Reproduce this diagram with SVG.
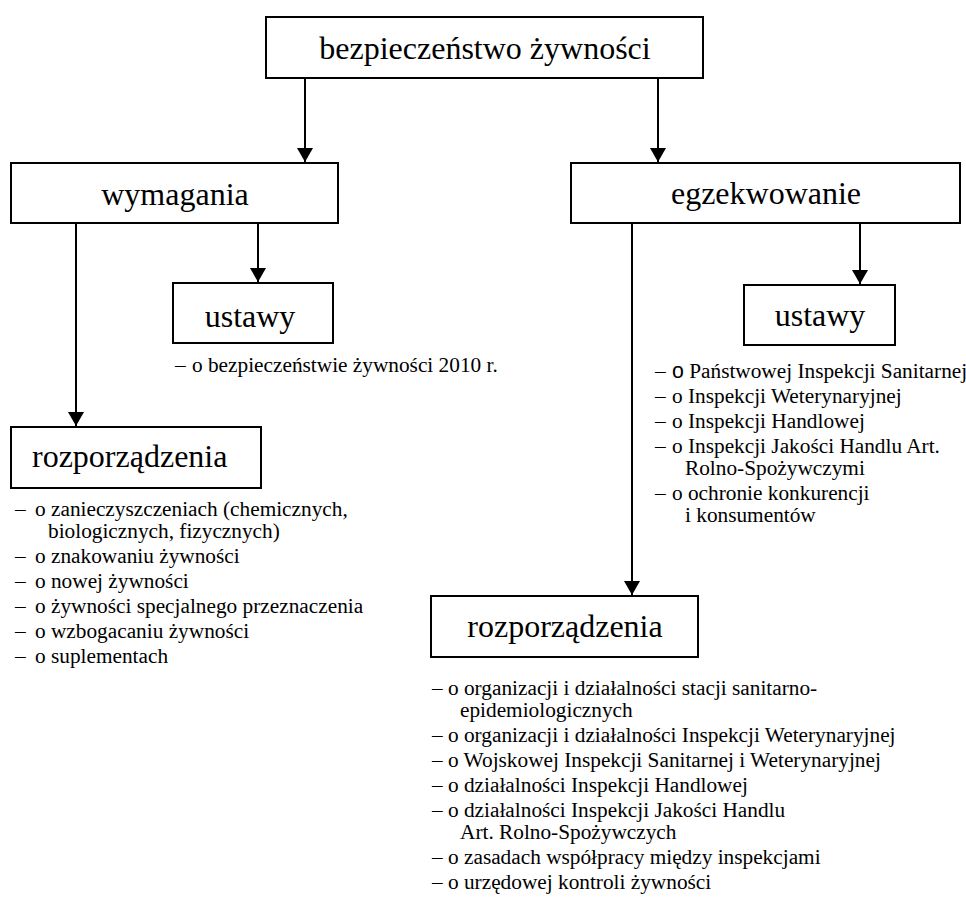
<svg xmlns="http://www.w3.org/2000/svg" width="966" height="898" viewBox="0 0 966 898">
<defs>
<style>
.box{fill:#fff;stroke:#000;stroke-width:2}
.t{font-family:"Liberation Serif","Times New Roman",serif;font-size:32px;fill:#000}
.c{text-anchor:middle}
.l{font-family:"Liberation Serif","Times New Roman",serif;font-size:21.3px;fill:#000}
.s{font-family:"Liberation Sans",Arial,sans-serif}
.conn line{stroke:#000;stroke-width:2;marker-end:url(#ah)}
</style>
<marker id="ah" viewBox="0 0 14 16" refX="14" refY="8" markerWidth="14" markerHeight="16" markerUnits="userSpaceOnUse" orient="auto">
<path d="M0,0 L14,8 L0,16 z" fill="#000"/>
</marker>
</defs>
<rect width="966" height="898" fill="#fff"/>
<g id="connectors" class="conn">
<line x1="305" y1="78" x2="305" y2="162"/>
<line x1="658" y1="78" x2="658" y2="162"/>
<line x1="258" y1="223" x2="258" y2="282"/>
<line x1="76" y1="223" x2="76" y2="426"/>
<line x1="860" y1="223" x2="860" y2="284"/>
<line x1="632" y1="223" x2="632" y2="595"/>
</g>
<g id="bezpieczenstwo">
<rect class="box" x="266" y="17" width="437" height="61"/>
<text class="t c" x="485" y="59">bezpieczeństwo żywności</text>
</g>
<g id="wymagania">
<rect class="box" x="11" y="163" width="327" height="60"/>
<text class="t c" x="175" y="205">wymagania</text>
</g>
<g id="egzekwowanie">
<rect class="box" x="571" y="163" width="389" height="60"/>
<text class="t c" x="766" y="204">egzekwowanie</text>
</g>
<g id="ustawy-wymagania">
<rect class="box" x="173" y="283" width="160" height="60"/>
<text class="t c" x="250" y="327">ustawy</text>
<text class="l" x="175" y="372">–<tspan x="192">o bezpieczeństwie żywności 2010 r.</tspan></text>
</g>
<g id="rozporzadzenia-wymagania">
<rect class="box" x="11" y="427" width="250" height="61"/>
<text class="t" x="32" y="467">rozporządzenia</text>
<text class="l" x="15" y="516">–<tspan x="35">o zanieczyszczeniach (chemicznych,</tspan></text>
<text class="l" x="48" y="538">biologicznych, fizycznych)</text>
<text class="l" x="15" y="563">–<tspan x="35">o znakowaniu żywności</tspan></text>
<text class="l" x="15" y="588">–<tspan x="35">o nowej żywności</tspan></text>
<text class="l" x="15" y="613">–<tspan x="35">o żywności specjalnego przeznaczenia</tspan></text>
<text class="l" x="15" y="638">–<tspan x="35">o wzbogacaniu żywności</tspan></text>
<text class="l" x="15" y="663">–<tspan x="35">o suplementach</tspan></text>
</g>
<g id="ustawy-egzekwowanie">
<rect class="box" x="744" y="285" width="151" height="60"/>
<text class="t c" x="820" y="326">ustawy</text>
<text class="l" x="655" y="378">–<tspan x="672" class="s">o</tspan><tspan> Państwowej Inspekcji Sanitarnej</tspan></text>
<text class="l" x="655" y="403">–<tspan x="672">o Inspekcji Weterynaryjnej</tspan></text>
<text class="l" x="655" y="428">–<tspan x="672">o Inspekcji Handlowej</tspan></text>
<text class="l" x="655" y="453">–<tspan x="672">o Inspekcji Jakości Handlu Art.</tspan></text>
<text class="l" x="685" y="475">Rolno-Spożywczymi</text>
<text class="l" x="655" y="500">–<tspan x="672">o ochronie konkurencji</tspan></text>
<text class="l" x="685" y="522">i konsumentów</text>
</g>
<g id="rozporzadzenia-egzekwowanie">
<rect class="box" x="431" y="596" width="267" height="61"/>
<text class="t c" x="565" y="637">rozporządzenia</text>
<text class="l" x="432" y="695">–<tspan x="448">o organizacji i działalności stacji sanitarno-</tspan></text>
<text class="l" x="460" y="717">epidemiologicznych</text>
<text class="l" x="432" y="742">–<tspan x="448">o organizacji i działalności Inspekcji Weterynaryjnej</tspan></text>
<text class="l" x="432" y="767">–<tspan x="448">o Wojskowej Inspekcji Sanitarnej i Weterynaryjnej</tspan></text>
<text class="l" x="432" y="792">–<tspan x="448">o działalności Inspekcji Handlowej</tspan></text>
<text class="l" x="432" y="817">–<tspan x="448">o działalności Inspekcji Jakości Handlu</tspan></text>
<text class="l" x="460" y="839">Art. Rolno-Spożywczych</text>
<text class="l" x="432" y="864">–<tspan x="448">o zasadach współpracy między inspekcjami</tspan></text>
<text class="l" x="432" y="889">–<tspan x="448">o urzędowej kontroli żywności</tspan></text>
</g>
</svg>
